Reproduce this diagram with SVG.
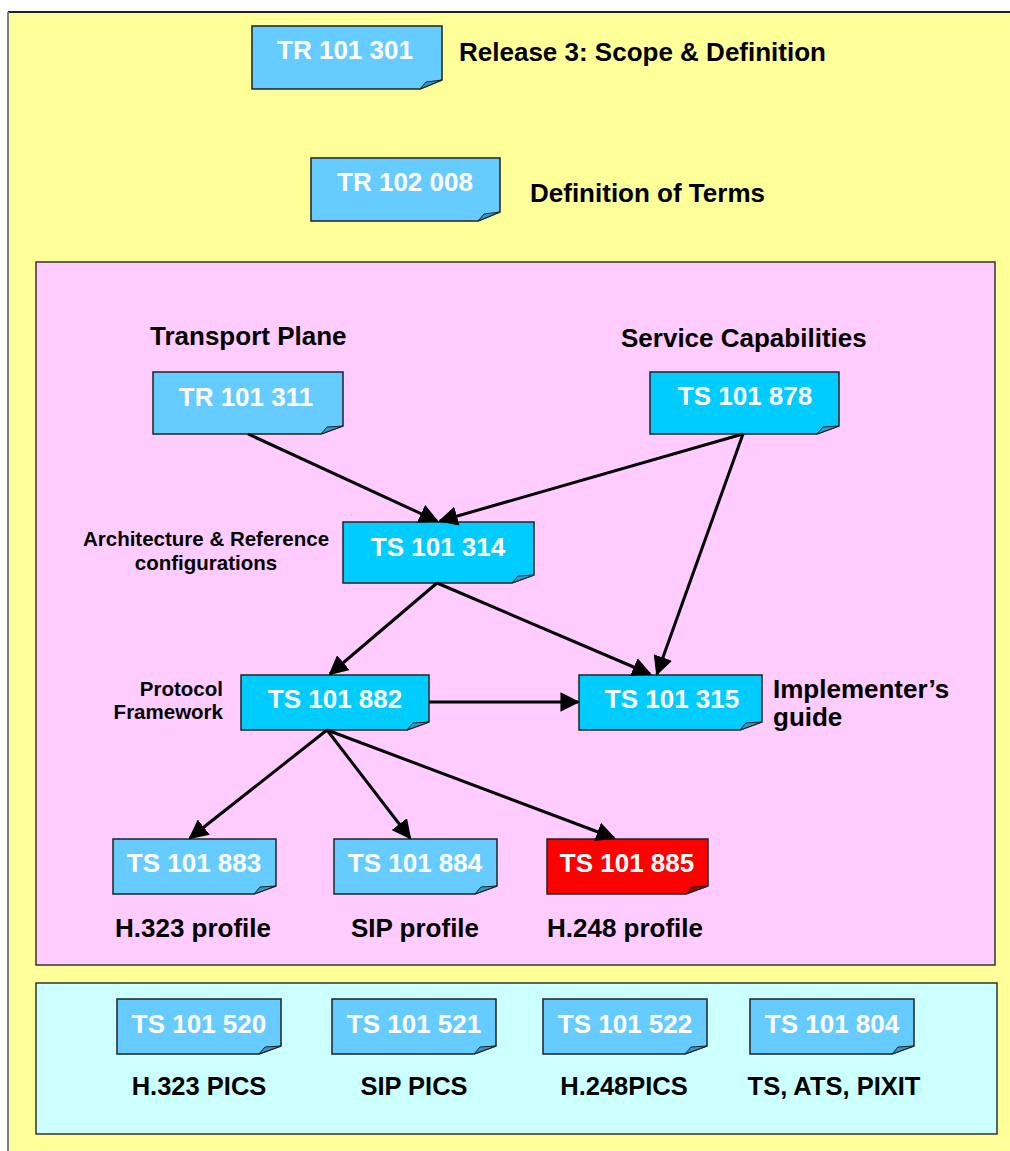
<svg xmlns="http://www.w3.org/2000/svg" width="1010" height="1151" viewBox="0 0 1010 1151">
<style>
.doc{stroke:#222;stroke-width:1.5}
.lt{fill:#66CCFF}
.dk{fill:#00CCFF}
.red{fill:#FF0000}
.flap{stroke:#222;stroke-width:1}
.fl{fill:#3399CC}
.fr{fill:#AA0000}
.nt{font-family:"Liberation Sans",Arial,sans-serif;font-weight:bold;font-size:26px;fill:#fff;text-anchor:middle}
.lb{font-family:"Liberation Sans",Arial,sans-serif;font-weight:bold;fill:#000}
.cn{stroke:#000;stroke-width:3;fill:none;marker-end:url(#ah)}
</style>
<defs>
<marker id="ah" viewBox="0 0 10 10" refX="9" refY="5" markerWidth="6.5" markerHeight="6.5" markerUnits="strokeWidth" orient="auto">
<path d="M0,0 L10,5 L0,10 z" fill="#000"/>
</marker>
</defs>
<rect x="0" y="0" width="1010" height="1151" fill="#fff"/>
<rect x="8" y="12" width="1010" height="1150" fill="#FFFF99"/>
<line x1="8" y1="12" x2="1010" y2="12" stroke="#222" stroke-width="2"/>
<line x1="8" y1="12" x2="8" y2="1151" stroke="#808080" stroke-width="2"/>
<rect id="core" x="36" y="262" width="959" height="703" fill="#FFCCFF" stroke="#333" stroke-width="1.5"/>
<rect id="tests" x="36" y="983" width="961" height="151" fill="#CCFFFF" stroke="#333" stroke-width="1.5"/>

<g id="tr101301">
<path class="doc lt" d="M252,26 H442 V80 L420,89 H252 Z"/>
<path class="flap fl" d="M420,89 L426,82 L442,80 Z"/>
<text class="nt" x="345" y="59">TR 101 301</text>
</g>
<text class="lb" x="459" y="61" font-size="26">Release 3: Scope &amp; Definition</text>

<g id="tr102008">
<path class="doc lt" d="M311,158 H500 V212 L478,221 H311 Z"/>
<path class="flap fl" d="M478,221 L484,214 L500,212 Z"/>
<text class="nt" x="405" y="191">TR 102 008</text>
</g>
<text class="lb" x="530" y="202" font-size="26">Definition of Terms</text>

<text class="lb" x="150" y="345" font-size="26">Transport Plane</text>
<text class="lb" x="621" y="347" font-size="26">Service Capabilities</text>

<g id="tr101311">
<path class="doc lt" d="M153,372 H343 V426 L321,434 H153 Z"/>
<path class="flap fl" d="M321,434 L327,427 L343,426 Z"/>
<text class="nt" x="246" y="406">TR 101 311</text>
</g>

<g id="ts101878">
<path class="doc dk" d="M650,372 H839 V426 L817,434 H650 Z"/>
<path class="flap fl" d="M817,434 L823,427 L839,426 Z"/>
<text class="nt" x="745" y="405">TS 101 878</text>
</g>

<g id="ts101314">
<path class="doc dk" d="M343,522 H534 V575 L512,583 H343 Z"/>
<path class="flap fl" d="M512,583 L518,576 L534,575 Z"/>
<text class="nt" x="438" y="556">TS 101 314</text>
</g>
<text class="lb" font-size="20.5" text-anchor="middle"><tspan x="206" y="546">Architecture &amp; Reference</tspan><tspan x="206" y="570">configurations</tspan></text>

<g id="ts101882">
<path class="doc dk" d="M241,675 H429 V722 L407,730 H241 Z"/>
<path class="flap fl" d="M407,730 L413,723 L429,722 Z"/>
<text class="nt" x="335" y="708">TS 101 882</text>
</g>
<text class="lb" font-size="20.5" text-anchor="end"><tspan x="223" y="696">Protocol</tspan><tspan x="223" y="719">Framework</tspan></text>

<g id="ts101315">
<path class="doc dk" d="M579,675 H762 V722 L740,730 H579 Z"/>
<path class="flap fl" d="M740,730 L746,723 L762,722 Z"/>
<text class="nt" x="672" y="708">TS 101 315</text>
</g>
<text class="lb" font-size="26"><tspan x="773" y="698">Implementer’s</tspan><tspan x="773" y="726">guide</tspan></text>

<g id="ts101883">
<path class="doc lt" d="M113,839 H276 V886 L254,894 H113 Z"/>
<path class="flap fl" d="M254,894 L260,887 L276,886 Z"/>
<text class="nt" x="194" y="872">TS 101 883</text>
</g>
<text class="lb" x="193" y="937" font-size="26" text-anchor="middle">H.323 profile</text>

<g id="ts101884">
<path class="doc lt" d="M334,839 H497 V886 L475,894 H334 Z"/>
<path class="flap fl" d="M475,894 L481,887 L497,886 Z"/>
<text class="nt" x="415" y="872">TS 101 884</text>
</g>
<text class="lb" x="415" y="937" font-size="26" text-anchor="middle">SIP profile</text>

<g id="ts101885">
<path class="doc red" d="M547,839 H708 V886 L686,894 H547 Z"/>
<path class="flap fr" d="M686,894 L692,887 L708,886 Z"/>
<text class="nt" x="627" y="872">TS 101 885</text>
</g>
<text class="lb" x="625" y="937" font-size="26" text-anchor="middle">H.248 profile</text>

<g id="ts101520">
<path class="doc lt" d="M117,999 H281 V1046 L259,1054 H117 Z"/>
<path class="flap fl" d="M259,1054 L265,1047 L281,1046 Z"/>
<text class="nt" x="199" y="1033">TS 101 520</text>
</g>
<text class="lb" x="199" y="1095" font-size="25.5" text-anchor="middle">H.323 PICS</text>

<g id="ts101521">
<path class="doc lt" d="M332,999 H496 V1046 L474,1054 H332 Z"/>
<path class="flap fl" d="M474,1054 L480,1047 L496,1046 Z"/>
<text class="nt" x="414" y="1033">TS 101 521</text>
</g>
<text class="lb" x="414" y="1095" font-size="25.5" text-anchor="middle">SIP PICS</text>

<g id="ts101522">
<path class="doc lt" d="M543,999 H707 V1046 L685,1054 H543 Z"/>
<path class="flap fl" d="M685,1054 L691,1047 L707,1046 Z"/>
<text class="nt" x="625" y="1033">TS 101 522</text>
</g>
<text class="lb" x="624" y="1095" font-size="25.5" text-anchor="middle">H.248PICS</text>

<g id="ts101804">
<path class="doc lt" d="M750,999 H914 V1046 L892,1054 H750 Z"/>
<path class="flap fl" d="M892,1054 L898,1047 L914,1046 Z"/>
<text class="nt" x="832" y="1033">TS 101 804</text>
</g>
<text class="lb" x="834" y="1095" font-size="25.5" text-anchor="middle">TS, ATS, PIXIT</text>

<g id="connectors">
<line class="cn" x1="248" y1="434" x2="437" y2="521"/>
<line class="cn" x1="743" y1="434" x2="440" y2="521"/>
<line class="cn" x1="743" y1="434" x2="657" y2="674"/>
<line class="cn" x1="437" y1="583" x2="330" y2="674"/>
<line class="cn" x1="437" y1="583" x2="650" y2="674"/>
<line class="cn" x1="429" y1="702" x2="578" y2="702"/>
<line class="cn" x1="327" y1="730" x2="190" y2="838"/>
<line class="cn" x1="327" y1="730" x2="410" y2="838"/>
<line class="cn" x1="327" y1="730" x2="614" y2="838"/>
</g>
</svg>
